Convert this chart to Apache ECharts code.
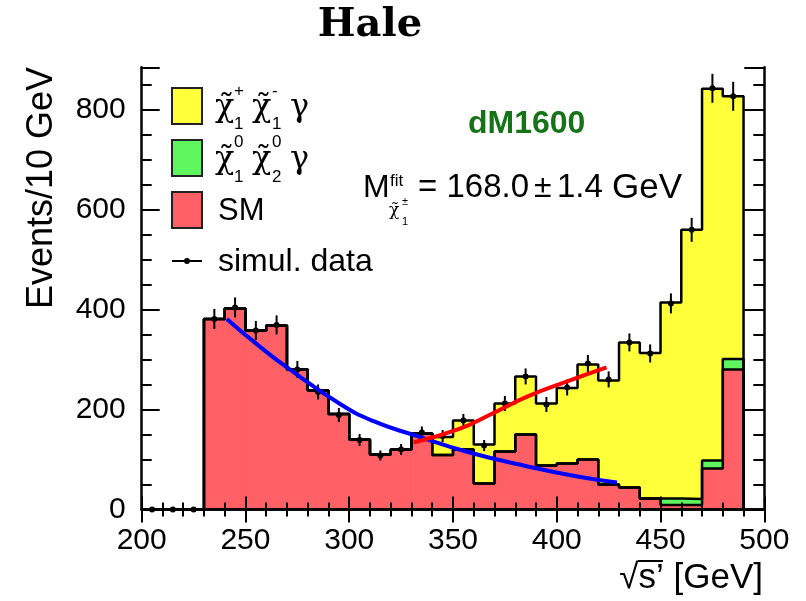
<!DOCTYPE html>
<html>
<head>
<meta charset="utf-8">
<title>Hale dM1600</title>
<script src="https://cdn.jsdelivr.net/npm/echarts@6/dist/echarts.min.js"></script>
<style>
  html, body { margin: 0; padding: 0; background: #fff; }
  #chart { width: 806px; height: 601px; }
</style>
</head>
<body>
<div id="chart"></div>
<script>
// low edge of each 10 GeV bin
const binLow = [200, 210, 220, 230, 240, 250, 260, 270, 280, 290, 300, 310, 320, 330, 340,
  350, 360, 370, 380, 390, 400, 410, 420, 430, 440, 450, 460, 470, 480];
const binWidth = 10;

// stacked MC contributions, events per bin
const smValues = [0, 0, 0, 381, 402, 358, 368, 280, 238, 191, 140, 110, 120, 152, 109,
  120, 52, 116, 150, 88, 92, 100, 50, 44, 22, 9, 9, 82, 280];
const n1n2Values = [0, 0, 0, 0, 0, 0, 0, 0, 0, 0, 0, 0, 0, 0, 0,
  0, 0, 0, 0, 0, 0, 0, 0, 0, 0, 13, 12, 16, 21];
const c1c1Values = [0, 0, 0, 0, 0, 0, 0, 0, 0, 0, 0, 0, 0, 0, 36,
  58, 78, 96, 116, 124, 151, 190, 208, 290, 291, 392, 538, 743, 525];

// simulated data points and their errors
const dataValues = [0, 0, 0, 381, 404, 358, 369, 280, 235, 189, 139, 108, 120, 154, 147,
  178, 128, 212, 266, 210, 244, 292, 260, 334, 312, 412, 559, 842, 826];
const dataErrors = [0, 0, 0, 20, 20, 19, 19, 17, 15, 14, 12, 10, 11, 12, 12,
  13, 11, 15, 16, 15, 16, 17, 16, 18, 18, 20, 24, 29, 29];

// fit curves
const smFit = [[241, 381], [255, 332], [270, 284], [296, 210], [312, 176],
  [331, 149], [358, 114], [386, 86], [410, 66], [429, 54]];
const signalFit = [[331, 134], [353, 161], [369, 192], [386, 226], [405, 256], [424, 284]];

const RED = '#ff6066';
const GREEN = '#5ef55e';
const YELLOW = '#ffff3a';

let chart = echarts.init(document.getElementById('chart'), null, {renderer: 'canvas'});

// cumulative stack levels
let lvlSM = smValues.slice();
let lvlN = lvlSM.map((v, i) => v + n1n2Values[i]);
let lvlAll = lvlN.map((v, i) => v + c1c1Values[i]);

function fillData(lo, hi) {
  return binLow.map((x, i) => [x, lo ? lo[i] : 0, hi[i]]);
}
function stepData(lvl) {
  return binLow.map((x, i) => [x, lvl[i]]).concat([[binLow[binLow.length - 1] + binWidth, 0]]);
}
function histFill(color) {
  return function (params, api) {
    const x0 = api.value(0), lo = api.value(1), hi = api.value(2);
    if (hi <= lo) return;
    const p0 = api.coord([x0, hi]);
    const p1 = api.coord([x0 + binWidth, lo]);
    return {
      type: 'rect',
      shape: {x: p0[0], y: p0[1], width: p1[0] - p0[0], height: p1[1] - p0[1]},
      // stroke in the fill colour hides the seams between bins
      style: {fill: color, stroke: color, lineWidth: 1}
    };
  };
}
function outline(lvl, z) {
  return {
    type: 'line', step: 'end', data: stepData(lvl), symbol: 'none', z: z, silent: true,
    lineStyle: {color: '#000', width: 2.5}
  };
}

const font = '"Liberation Sans", Arial, Helvetica, sans-serif';
const serif = '"DejaVu Serif", serif';
const axisCommon = {
  type: 'value', splitLine: {show: false}, z: 10,
  axisLine: {show: true, lineStyle: {color: '#000', width: 2.5}},
};

function txt(x, y, text, size, opts) {
  opts = opts || {};
  let el = {
    type: 'text', x: x, y: y, z: 100,
    style: {
      text: text, font: (opts.weight ? opts.weight + ' ' : '') + size + 'px ' + (opts.family || font),
      fill: opts.color || '#000', textAlign: opts.align || 'left', textVerticalAlign: 'middle'
    }
  };
  if (opts.rotation) el.rotation = opts.rotation;
  return el;
}

chart.setOption({
  animation: false,
  backgroundColor: '#fff',
  grid: {left: 141.7, right: 41.7, top: 67.3, bottom: 91.5},
  xAxis: [
    Object.assign({}, axisCommon, {
      position: 'bottom', min: 200, max: 500, interval: 50,
      axisTick: {inside: true, length: 13, lineStyle: {color: '#000', width: 2}},
      minorTick: {show: true, splitNumber: 5, length: 7, lineStyle: {color: '#000', width: 2}},
      axisLabel: {color: '#000', fontSize: 30, fontFamily: font, margin: 16}
    }),
    Object.assign({}, axisCommon, {
      position: 'top', min: 200, max: 500, interval: 50,
      axisTick: {inside: true, length: 13, lineStyle: {color: '#000', width: 2}},
      minorTick: {show: true, splitNumber: 5, length: 7, lineStyle: {color: '#000', width: 2}},
      axisLabel: {show: false}
    })
  ],
  yAxis: [
    Object.assign({}, axisCommon, {
      position: 'left', min: 0, max: 884, interval: 200,
      axisTick: {inside: true, length: 18, lineStyle: {color: '#000', width: 2}},
      minorTick: {show: true, splitNumber: 4, length: 10, lineStyle: {color: '#000', width: 2}},
      axisLabel: {color: '#000', fontSize: 30, fontFamily: font, margin: 16, showMaxLabel: false}
    }),
    Object.assign({}, axisCommon, {
      position: 'right', min: 0, max: 884, interval: 200,
      axisTick: {inside: true, length: 20, lineStyle: {color: '#000', width: 2}},
      minorTick: {show: true, splitNumber: 4, length: 11, lineStyle: {color: '#000', width: 2}},
      axisLabel: {show: false}
    })
  ],
  series: [
    {type: 'custom', name: 'SM', data: fillData(null, lvlSM), renderItem: histFill(RED), z: 2, silent: true},
    {type: 'custom', name: 'n1n2', data: fillData(lvlSM, lvlN), renderItem: histFill(GREEN), z: 2, silent: true},
    {type: 'custom', name: 'c1c1', data: fillData(lvlN, lvlAll), renderItem: histFill(YELLOW), z: 2, silent: true},
    outline(lvlSM, 3),
    outline(lvlN, 3),
    outline(lvlAll, 3),
    {
      type: 'custom', name: 'simul. data', z: 5, clip: false, silent: true,
      data: binLow.map((x, i) => [x + binWidth / 2, dataValues[i], dataErrors[i]]),
      renderItem: function (params, api) {
        const x = api.value(0), v = api.value(1), e = api.value(2);
        const top = api.coord([x, v + e]), bot = api.coord([x, v - e]), c = api.coord([x, v]);
        return {
          type: 'group', children: [
            {type: 'line', shape: {x1: top[0], y1: top[1], x2: bot[0], y2: bot[1]}, style: {stroke: '#000', lineWidth: 2}},
            {type: 'circle', shape: {cx: c[0], cy: c[1], r: 3}, style: {fill: '#000'}}
          ]
        };
      }
    },
    {type: 'line', data: smFit, smooth: true, symbol: 'none', z: 6, silent: true,
      lineStyle: {color: '#0000ff', width: 4}},
    {type: 'line', data: signalFit, smooth: true, symbol: 'none', z: 6, silent: true,
      lineStyle: {color: '#ff0000', width: 4}}
  ],
  graphic: [
    txt(370, 26, 'Hale', 40, {family: serif, weight: 'bold', align: 'center'}),
    txt(42, 188, 'Events/10 GeV', 36, {align: 'center', rotation: Math.PI / 2}),
    txt(763, 578, '\u221As\u2019 [GeV]', 35, {align: 'right'}),
    {type: 'line', shape: {x1: 638, y1: 561, x2: 663, y2: 561}, style: {stroke: '#000', lineWidth: 2}, z: 100},

    // legend boxes
    {type: 'rect', shape: {x: 172, y: 88, width: 30, height: 36}, style: {fill: YELLOW, stroke: '#222', lineWidth: 2}, z: 100},
    {type: 'rect', shape: {x: 172, y: 140, width: 30, height: 36}, style: {fill: GREEN, stroke: '#222', lineWidth: 2}, z: 100},
    {type: 'rect', shape: {x: 172, y: 192, width: 30, height: 36}, style: {fill: RED, stroke: '#222', lineWidth: 2}, z: 100},
    {type: 'line', shape: {x1: 172, y1: 261, x2: 202, y2: 261}, style: {stroke: '#000', lineWidth: 2}, z: 100},
    {type: 'circle', shape: {cx: 187, cy: 261, r: 3}, style: {fill: '#000'}, z: 100},

    // chargino pair label
    txt(215, 108, '\u03C7\u0303', 32, {family: serif}),
    txt(234, 91, '+', 17),
    txt(234, 124, '1', 17),
    txt(252, 108, '\u03C7\u0303', 32, {family: serif}),
    txt(272, 91, '-', 17),
    txt(272, 124, '1', 17),
    txt(290, 108, '\u03B3', 32, {family: serif}),
    // neutralino pair label
    txt(215, 160, '\u03C7\u0303', 32, {family: serif}),
    txt(234, 142, '0', 17),
    txt(234, 177, '1', 17),
    txt(252, 160, '\u03C7\u0303', 32, {family: serif}),
    txt(272, 142, '0', 17),
    txt(272, 177, '2', 17),
    txt(290, 160, '\u03B3', 32, {family: serif}),
    txt(218, 211, 'SM', 31),
    txt(218, 262, 'simul. data', 32),

    txt(468, 124, 'dM1600', 32, {weight: 'bold', color: '#177317'}),
    txt(363, 188, 'M', 32),
    txt(390, 181, 'fit', 17),
    txt(389, 211, '\u03C7\u0303', 17, {family: serif}),
    txt(402, 202, '\u00B1', 11),
    txt(402, 222, '1', 11),
    txt(418, 188, '= 168.0', 33),
    txt(534, 188, '\u00B1', 32),
    txt(557, 188, '1.4', 33),
    txt(612, 188, 'GeV', 35)
  ]
});
</script>
</body>
</html>
